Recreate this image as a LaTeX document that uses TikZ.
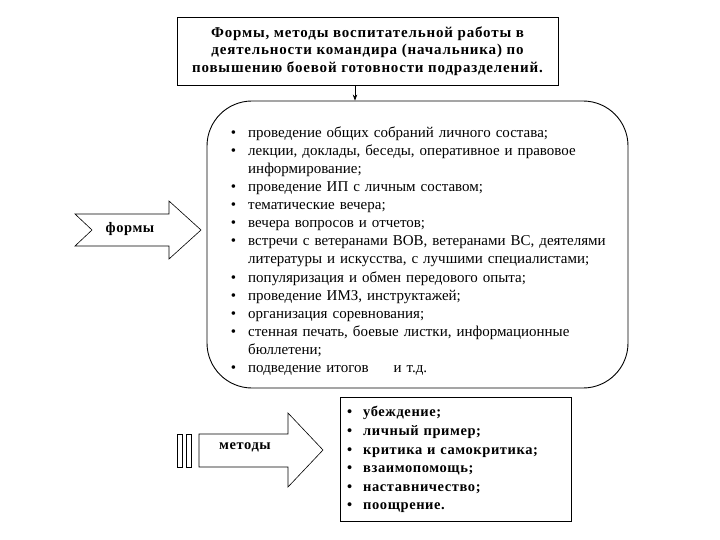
\documentclass[tikz,border=0pt]{standalone}
\usepackage{fontspec}
\setmainfont{Liberation Serif}
\newfontfamily\spacedserif[LetterSpace=5.5]{Liberation Serif}
\newfontfamily\widerserif[LetterSpace=4]{Liberation Serif}
\usepackage{enumitem}
\usetikzlibrary{arrows.meta}

\begin{document}
\begin{tikzpicture}[x=1pt, y=-1pt, font=\fontsize{15}{18.1}\selectfont]
	\tikzstyle{box}=[draw, line width=0.9pt, inner sep=0pt]
	\tikzstyle{outline}=[draw, line width=0.6pt, fill=white]
	\tikzstyle{lbl}=[inner sep=0pt, font=\widerserif\bfseries\fontsize{14.5}{17}\selectfont]
	\useasboundingbox (0,0) rectangle (720,540);

	\node[box, minimum width=381pt, minimum height=68pt, align=center,
		font=\spacedserif\bfseries\fontsize{15}{17.5}\selectfont] (title) at (367.5,51)
		{Формы, методы воспитательной работы в\\
		 деятельности командира (начальника) по\\
		 повышению боевой готовности подразделений.};

	\node[box, rounded corners=45pt, minimum width=421pt, minimum height=287pt] (formsbox) at (417.5,244.5) {};
	\node[anchor=north west, text width=390pt, inner sep=0pt, align=left] (formslist) at (226,119) {%
		\begin{itemize}[nosep, leftmargin=22pt, labelsep=12pt, label=\textbullet]
			\item проведение общих собраний личного состава;
			\item лекции, доклады, беседы, оперативное и правовое\\ информирование;
			\item проведение ИП с личным составом;
			\item тематические вечера;
			\item вечера вопросов и отчетов;
			\item встречи с ветеранами ВОВ, ветеранами ВС, деятелями\\ литературы и искусства, с лучшими специалистами;
			\item популяризация и обмен передового опыта;
			\item проведение ИМЗ, инструктажей;
			\item организация соревнования;
			\item стенная печать, боевые листки, информационные\\ бюллетени;
			\item подведение итогов \quad\ и т.д.
		\end{itemize}};

	\coordinate (drop) at (355,0);
	\draw[line width=0.6pt, -{Stealth[length=6pt, width=4.5pt]}] (title.south -| drop) -- (formsbox.north -| drop);

	% forms arrow
	\draw[outline] (75,214) -- (169,214) -- (169,201) -- (201,230) -- (169,259) -- (169,246) -- (75,246) -- (92,230) -- cycle;
	\node[lbl] (forms) at (130,229) {формы};

	% methods arrow
	\draw[outline] (177,434) rectangle (182,467);
	\draw[outline] (186,434) rectangle (191,467);
	\draw[outline] (199,434) -- (288,434) -- (288,413) -- (323,450) -- (288,487) -- (288,467) -- (199,467) -- cycle;
	\node[lbl] (methods) at (245,447) {методы};

	\node[box, minimum width=231pt, minimum height=124pt] (methodsbox) at (455.5,459) {};
	\node[anchor=north west, text width=220pt, inner sep=0pt, align=left,
		font=\widerserif\bfseries\fontsize{14.5}{18.6}\selectfont] (methodslist) at (340,398) {%
		\begin{itemize}[nosep, leftmargin=23pt, labelsep=11pt, label=\textbullet]
			\item убеждение;
			\item личный пример;
			\item критика и самокритика;
			\item взаимопомощь;
			\item наставничество;
			\item поощрение.
		\end{itemize}};
\end{tikzpicture}
\end{document}
